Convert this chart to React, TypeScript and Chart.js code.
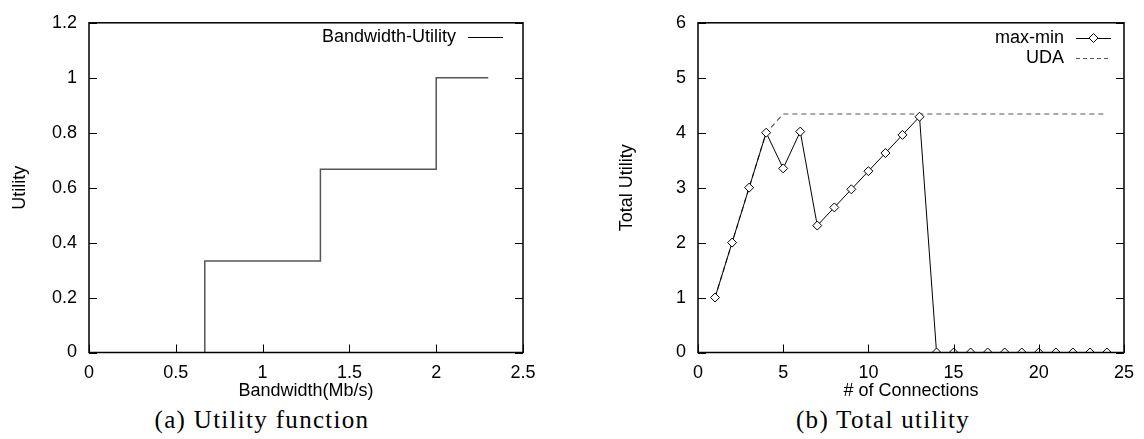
import React, { useEffect, useRef } from "react";
import { Chart, registerables } from "chart.js";

Chart.register(...registerables);

// ---- Data: (a) Utility function ----
const bandwidth = [0.667, 0.667, 1.333, 2, 2.3];
const utility = [0, 0.333, 0.667, 1, 1];
const bwTicks = [0, 0.5, 1, 1.5, 2, 2.5];
const utilTicks = [0, 0.2, 0.4, 0.6, 0.8, 1, 1.2];

// ---- Data: (b) Total utility ----
const connections = [1, 2, 3, 4, 5, 6, 7, 8, 9, 10, 11, 12, 13, 14, 15, 16, 17, 18, 19, 20, 21, 22, 23, 24];
const maxMin = [1, 2, 3, 4, 3.35, 4.02, 2.31, 2.64, 2.97, 3.3, 3.63, 3.96, 4.29, 0, 0, 0, 0, 0, 0, 0, 0, 0, 0, 0];
const uda = [1, 2, 3, 4, 4.34, 4.34, 4.34, 4.34, 4.34, 4.34, 4.34, 4.34, 4.34, 4.34, 4.34, 4.34, 4.34, 4.34, 4.34, 4.34, 4.34, 4.34, 4.34, 4.34];
const connTicks = [0, 5, 10, 15, 20, 25];
const totalTicks = [0, 1, 2, 3, 4, 5, 6];

const SANS = "'Liberation Sans', Arial, sans-serif";
const FONT_SIZE = 18;

type LegendItem = { label: string; color: string; dash: number[]; point: boolean; width: number };

function makeDecoPlugin(
  legendRight: number,
  legendY: number[],
  items: LegendItem[],
  xTitle: string,
  xTitleY: number,
  yTitle: string,
  yTitleX: number
) {
  return {
    id: "deco",
    afterDraw(chart: any) {
      const ctx = chart.ctx;
      const { left, right, top, bottom } = chart.chartArea;
      const xs = chart.scales.x;
      const ys = chart.scales.y;
      ctx.save();
      // border
      ctx.strokeStyle = "#000";
      ctx.lineWidth = 1.5;
      ctx.setLineDash([]);
      ctx.strokeRect(left, top, right - left, bottom - top);
      // inward ticks
      ctx.lineWidth = 1;
      const tl = 8;
      ctx.beginPath();
      xs.ticks.forEach((t: any) => {
        const px = Math.round(xs.getPixelForValue(t.value)) + 0.5;
        ctx.moveTo(px, bottom);
        ctx.lineTo(px, bottom - tl);
      });
      ys.ticks.forEach((t: any) => {
        const py = Math.round(ys.getPixelForValue(t.value)) + 0.5;
        ctx.moveTo(left, py);
        ctx.lineTo(left + tl, py);
        ctx.moveTo(right, py);
        ctx.lineTo(right - tl, py);
      });
      ctx.stroke();
      // axis titles
      ctx.font = `${FONT_SIZE}px ${SANS}`;
      ctx.fillStyle = "#000";
      ctx.textAlign = "center";
      ctx.textBaseline = "middle";
      ctx.fillText(xTitle, (left + right) / 2, xTitleY);
      ctx.save();
      ctx.translate(yTitleX, (top + bottom) / 2);
      ctx.rotate(-Math.PI / 2);
      ctx.fillText(yTitle, 0, 0);
      ctx.restore();
      // legend
      ctx.textAlign = "right";
      ctx.textBaseline = "middle";
      items.forEach((it, i) => {
        const y = legendY[i];
        ctx.fillStyle = "#000";
        ctx.fillText(it.label, legendRight, y);
        const x0 = legendRight + 12;
        const x1 = legendRight + 47;
        ctx.strokeStyle = it.color;
        ctx.lineWidth = it.width;
        ctx.setLineDash(it.dash);
        ctx.beginPath();
        ctx.moveTo(x0, y + 0.5);
        ctx.lineTo(x1, y + 0.5);
        ctx.stroke();
        ctx.setLineDash([]);
        if (it.point) {
          const cx = (x0 + x1) / 2;
          ctx.fillStyle = "#fff";
          ctx.strokeStyle = "#000";
          ctx.lineWidth = 1;
          ctx.beginPath();
          ctx.moveTo(cx, y - 4.5);
          ctx.lineTo(cx + 4.5, y);
          ctx.lineTo(cx, y + 4.5);
          ctx.lineTo(cx - 4.5, y);
          ctx.closePath();
          ctx.fill();
          ctx.stroke();
        }
      });
      ctx.restore();
    },
  };
}

function axisOptions(min: number, max: number, ticks: number[], isX: boolean, size: number) {
  return {
    type: "linear",
    min,
    max,
    afterBuildTicks: (scale: any) => {
      scale.ticks = ticks.map((v) => ({ value: v }));
    },
    afterFit: (scale: any) => {
      if (isX) scale.height = size;
      else scale.width = size;
    },
    grid: { display: true, drawOnChartArea: false, drawTicks: false },
    border: { display: false },
    ticks: {
      color: "#000",
      padding: isX ? 10 : 12,
      font: { family: SANS, size: FONT_SIZE },
      maxRotation: 0,
      autoSkip: false,
      callback: (v: any) => String(v),
    },
    title: { display: false },
  };
}

function UtilityChart() {
  const ref = useRef<HTMLCanvasElement | null>(null);
  useEffect(() => {
    if (!ref.current) return;
    const chart = new Chart(ref.current, {
      type: "line",
      data: {
        datasets: [
          {
            label: "Bandwidth-Utility",
            data: bandwidth.map((x, i) => ({ x, y: utility[i] })),
            borderColor: "#555",
            borderWidth: 1.5,
            stepped: "before",
            pointRadius: 0,
            fill: false,
          },
        ],
      },
      options: {
        responsive: false,
        animation: false,
        devicePixelRatio: 1,
        layout: { padding: { left: 0, right: 49, top: 11, bottom: 0 } },
        plugins: { legend: { display: false }, tooltip: { enabled: false } },
        scales: {
          x: axisOptions(0, 2.5, bwTicks, true, 47.5) as any,
          y: axisOptions(0, 1.2, utilTicks, false, 89) as any,
        },
      },
      plugins: [
        makeDecoPlugin(
          456,
          [37],
          [{ label: "Bandwidth-Utility", color: "#000", dash: [], point: false, width: 1 }],
          "Bandwidth(Mb/s)",
          391,
          "Utility",
          20
        ),
      ],
    } as any);
    return () => chart.destroy();
  }, []);
  return <canvas ref={ref} width={572} height={400} style={{ position: "absolute", left: 0, top: 0 }} />;
}

function TotalChart() {
  const ref = useRef<HTMLCanvasElement | null>(null);
  useEffect(() => {
    if (!ref.current) return;
    const chart = new Chart(ref.current, {
      type: "line",
      data: {
        datasets: [
          {
            label: "max-min",
            data: connections.map((x, i) => ({ x, y: maxMin[i] })),
            borderColor: "#000",
            borderWidth: 1,
            pointStyle: "rectRot",
            pointRadius: 4.5,
            pointBackgroundColor: "#fff",
            pointBorderColor: "#000",
            pointBorderWidth: 1,
            fill: false,
            order: 1,
          },
          {
            label: "UDA",
            data: connections.map((x, i) => ({ x, y: uda[i] })),
            borderColor: "#555",
            borderWidth: 1.2,
            borderDash: [5, 4],
            pointRadius: 0,
            fill: false,
            order: 2,
          },
        ],
      },
      options: {
        responsive: false,
        animation: false,
        devicePixelRatio: 1,
        layout: { padding: { left: 0, right: 14, top: 11, bottom: 0 } },
        plugins: { legend: { display: false }, tooltip: { enabled: false } },
        scales: {
          x: axisOptions(0, 25, connTicks, true, 47.5) as any,
          y: axisOptions(0, 6, totalTicks, false, 126) as any,
        },
      },
      plugins: [
        makeDecoPlugin(
          492,
          [38, 58],
          [
            { label: "max-min", color: "#000", dash: [], point: true, width: 1 },
            { label: "UDA", color: "#555", dash: [4, 3], point: false, width: 1.2 },
          ],
          "# of Connections",
          391,
          "Total Utility",
          55
        ),
      ],
    } as any);
    return () => chart.destroy();
  }, []);
  return <canvas ref={ref} width={572} height={400} style={{ position: "absolute", left: 572, top: 0 }} />;
}

const captionStyle: React.CSSProperties = {
  position: "absolute",
  top: 405,
  width: 400,
  textAlign: "center",
  fontFamily: "'Liberation Serif', 'Times New Roman', serif",
  fontSize: 25,
  lineHeight: "30px",
  letterSpacing: "1.3px",
  color: "#000",
  whiteSpace: "nowrap",
};

export default function App() {
  return (
    <div style={{ position: "absolute", left: 0, top: 0, width: 1144, height: 439, background: "#fff", overflow: "hidden" }}>
      <UtilityChart />
      <TotalChart />
      <div style={{ ...captionStyle, left: 262 - 200 }}>(a) Utility function</div>
      <div style={{ ...captionStyle, left: 883 - 200 }}>(b) Total utility</div>
    </div>
  );
}
